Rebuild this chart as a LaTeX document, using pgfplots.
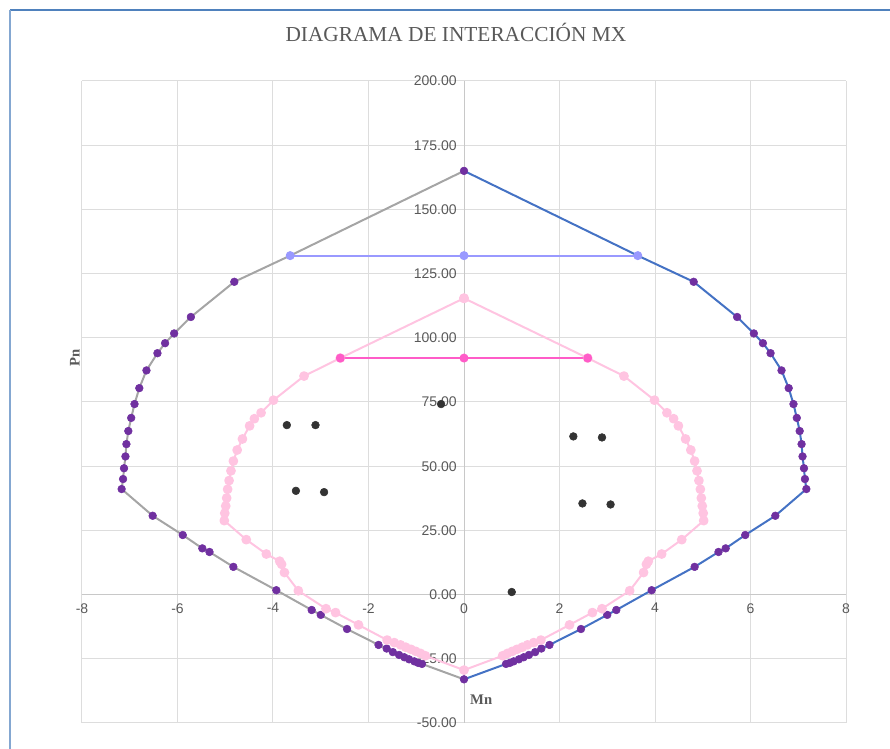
\documentclass[border=0pt]{standalone}
\usepackage{fontspec}
\setmainfont{Liberation Serif}
\newfontfamily\tickfont{Liberation Sans}
\usepackage{pgfplots}
\pgfplotsset{compat=1.18}
\definecolor{purp}{HTML}{7030A0}
\definecolor{lineblue}{HTML}{4472C4}
\definecolor{linegray}{HTML}{A5A5A5}
\definecolor{lavender}{HTML}{9999FF}
\definecolor{pinklight}{HTML}{FFC4E1}
\definecolor{hotpink}{HTML}{FF5CC8}
\definecolor{dotdark}{HTML}{333333}
\definecolor{gridgray}{HTML}{DDDDDD}
\definecolor{axisgray}{HTML}{C8C8C8}
\definecolor{labelgray}{HTML}{595959}
\definecolor{framblue}{HTML}{4F81BD}
\begin{document}
\begin{tikzpicture}
\path[use as bounding box] (-61.5pt,-19.5pt) rectangle (606pt,542.25pt);
\begin{axis}[
  at={(0pt,0pt)}, anchor=south west,
  scale only axis, width=573pt, height=481.5pt,
  xmin=-8, xmax=8, ymin=-50, ymax=200,
  axis lines=middle, axis line style={-, color=axisgray, line width=0.75pt},
  grid=major, grid style={color=gridgray, line width=0.75pt},
  xtick={-8,-6,...,8}, ytick={-50,-25,...,200},
  major tick length=0pt,
  hide obscured x ticks=false, hide obscured y ticks=false,
  tick label style={font=\tickfont\fontsize{10.5}{12}\selectfont, text=labelgray},
  /pgf/number format/assume math mode=true,
  yticklabel style={/pgf/number format/fixed, /pgf/number format/fixed zerofill, /pgf/number format/precision=2, anchor=east, xshift=-2pt},
  xticklabel style={/pgf/number format/fixed, /pgf/number format/precision=0, anchor=north, yshift=-3pt},
  clip=false,
  every axis plot/.append style={line join=round},
]
% outer curve, left side (gray)
\addplot[draw=linegray, line width=1.5pt] coordinates {
(0,165) (-3.64,132) (-4.81,121.8) (-5.72,108.1) (-6.07,101.7) (-6.26,97.9) (-6.42,94.0) (-6.65,87.3) (-6.80,80.4) (-6.90,74.2) (-6.97,68.8) (-7.03,63.7) (-7.07,58.6) (-7.09,53.8) (-7.12,49.2) (-7.14,45.0) (-7.17,41.1) (-6.52,30.7) (-5.89,23.2) (-5.48,18.0) (-5.33,16.6) (-4.83,10.8) (-3.93,1.7) (-3.19,-6.0) (-3.00,-7.9) (-2.45,-13.4) (-1.79,-19.6) (-1.62,-21.0) (-1.49,-22.4) (-1.36,-23.5) (-1.25,-24.4) (-1.15,-25.2) (-1.04,-26.0) (-0.96,-26.6) (-0.88,-27.0) (0,-33.0)
};
% outer curve, right side (blue)
\addplot[draw=lineblue, line width=1.5pt] coordinates {
(0,165) (3.64,132) (4.81,121.8) (5.72,108.1) (6.07,101.7) (6.26,97.9) (6.42,94.0) (6.65,87.3) (6.80,80.4) (6.90,74.2) (6.97,68.8) (7.03,63.7) (7.07,58.6) (7.09,53.8) (7.12,49.2) (7.14,45.0) (7.17,41.1) (6.52,30.7) (5.89,23.2) (5.48,18.0) (5.33,16.6) (4.83,10.8) (3.93,1.7) (3.19,-6.0) (3.00,-7.9) (2.45,-13.4) (1.79,-19.6) (1.62,-21.0) (1.49,-22.4) (1.36,-23.5) (1.25,-24.4) (1.15,-25.2) (1.04,-26.0) (0.96,-26.6) (0.88,-27.0) (0,-33.0)
};
% outer curve markers
\addplot[only marks, mark=*, mark size=2.9pt, color=purp] coordinates {
(0,165) (4.81,121.8) (5.72,108.1) (6.07,101.7) (6.26,97.9) (6.42,94.0) (6.65,87.3) (6.80,80.4) (6.90,74.2) (6.97,68.8) (7.03,63.7) (7.07,58.6) (7.09,53.8) (7.12,49.2) (7.14,45.0) (7.17,41.1) (6.52,30.7) (5.89,23.2) (5.48,18.0) (5.33,16.6) (4.83,10.8) (3.93,1.7) (3.19,-6.0) (3.00,-7.9) (2.45,-13.4) (1.79,-19.6) (1.62,-21.0) (1.49,-22.4) (1.36,-23.5) (1.25,-24.4) (1.15,-25.2) (1.04,-26.0) (0.96,-26.6) (0.88,-27.0) (0,-33.0)
(-4.81,121.8) (-5.72,108.1) (-6.07,101.7) (-6.26,97.9) (-6.42,94.0) (-6.65,87.3) (-6.80,80.4) (-6.90,74.2) (-6.97,68.8) (-7.03,63.7) (-7.07,58.6) (-7.09,53.8) (-7.12,49.2) (-7.14,45.0) (-7.17,41.1) (-6.52,30.7) (-5.89,23.2) (-5.48,18.0) (-5.33,16.6) (-4.83,10.8) (-3.93,1.7) (-3.19,-6.0) (-3.00,-7.9) (-2.45,-13.4) (-1.79,-19.6) (-1.62,-21.0) (-1.49,-22.4) (-1.36,-23.5) (-1.25,-24.4) (-1.15,-25.2) (-1.04,-26.0) (-0.96,-26.6) (-0.88,-27.0)
};
% horizontal limit, outer
\addplot[color=lavender, line width=1.5pt, mark=*, mark size=2.6pt] coordinates {(-3.64,132) (0,132) (3.64,132)};
% inner (reduced) curve
\addplot[color=pinklight, line width=1.5pt, mark=*, mark size=2.9pt] coordinates {
(0,115.4) (2.59,92.1) (3.35,85.1) (3.99,75.7) (4.25,70.8) (4.39,68.5) (4.49,65.7) (4.64,60.6) (4.75,56.3) (4.83,52.0) (4.88,48.2) (4.92,44.4) (4.95,41.0) (4.97,37.6) (4.99,34.5) (5.01,31.7) (5.02,28.8) (4.56,21.4) (4.14,15.8) (3.86,13.0) (3.82,11.8) (3.76,8.6) (3.47,1.5) (2.89,-5.5) (2.69,-7.0) (2.21,-11.8) (1.61,-17.7) (1.46,-18.7) (1.33,-19.6) (1.22,-20.5) (1.11,-21.3) (1.01,-22.1) (0.91,-22.9) (0.81,-23.8) (0,-29.4)
(-0.81,-23.8) (-0.91,-22.9) (-1.01,-22.1) (-1.11,-21.3) (-1.22,-20.5) (-1.33,-19.6) (-1.46,-18.7) (-1.61,-17.7) (-2.21,-11.8) (-2.69,-7.0) (-2.89,-5.5) (-3.47,1.5) (-3.76,8.6) (-3.82,11.8) (-3.86,13.0) (-4.14,15.8) (-4.56,21.4) (-5.02,28.8) (-5.01,31.7) (-4.99,34.5) (-4.97,37.6) (-4.95,41.0) (-4.92,44.4) (-4.88,48.2) (-4.83,52.0) (-4.75,56.3) (-4.64,60.6) (-4.49,65.7) (-4.39,68.5) (-4.25,70.8) (-3.99,75.7) (-3.35,85.1) (-2.59,92.1) (0,115.4)
};
% horizontal limit, inner
\addplot[color=hotpink, line width=1.5pt, mark=*, mark size=2.6pt] coordinates {(-2.59,92.1) (0,92.1) (2.59,92.1)};
% load combinations
\addplot[only marks, mark=*, mark size=2.9pt, color=dotdark] coordinates {
(-3.71,66.0) (-3.11,66.0) (-3.52,40.4) (-2.93,39.9) (-0.48,74.2) (2.29,61.6) (2.89,61.2) (2.48,35.5) (3.07,35.1) (1.0,1.0)
};
\node[font=\fontsize{16}{19}\selectfont, text=labelgray] at (axis cs:-0.17,219.0) {DIAGRAMA DE INTERACCIÓN MX};
\node[font=\bfseries\fontsize{11}{13}\selectfont, text=labelgray, rotate=90] at (axis cs:-8.15,92.1) {Pn};
\node[font=\bfseries\fontsize{11}{13}\selectfont, text=labelgray] at (axis cs:0.36,-41.0) {Mn};
\end{axis}
\draw[framblue, line width=1pt] (-54pt,534.75pt) -- (606pt,534.75pt);
\draw[framblue!70, line width=0.8pt] (-54pt,534.75pt) -- (-54pt,-19.5pt);
\end{tikzpicture}
\end{document}
